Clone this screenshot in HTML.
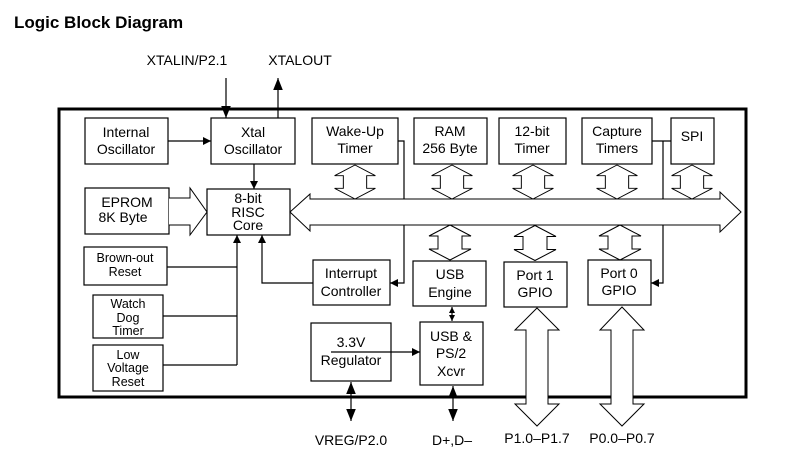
<!DOCTYPE html>
<html><head><meta charset="utf-8"><style>
html,body{margin:0;padding:0;background:#fff;}
svg{display:block;font-family:"Liberation Sans",Arial,sans-serif;}
text{font-size:14px;fill:#000;text-anchor:middle;}
.b{fill:#fff;stroke:#000;stroke-width:1.2;}
.l{stroke:#000;stroke-width:1.2;fill:none;}
.h{fill:#fff;stroke:#000;stroke-width:1;}
</style></head><body>
<svg width="801" height="458" viewBox="0 0 801 458">
<defs>
<marker id="a" viewBox="0 0 10 10" refX="10" refY="5" markerWidth="8" markerHeight="8" markerUnits="userSpaceOnUse" orient="auto"><path d="M0,0L10,5L0,10z" fill="#000"/></marker>
<marker id="A" viewBox="0 0 10 10" refX="10" refY="5" markerWidth="12" markerHeight="12" markerUnits="userSpaceOnUse" orient="auto-start-reverse"><path d="M0,1L10,5L0,9z" fill="#000"/></marker>
<marker id="s" viewBox="0 0 10 10" refX="10" refY="5" markerWidth="6" markerHeight="6" markerUnits="userSpaceOnUse" orient="auto-start-reverse"><path d="M0,0L10,5L0,10z" fill="#000"/></marker>
<symbol id="dv" viewBox="-21 0 42 35" overflow="visible">
<path d="M0,0L21,11L12,11L12,24L21,24L0,35L-21,24L-12,24L-12,11L-21,11Z"/>
</symbol>
</defs>
<text x="14" y="28" style="font-size:17px;font-weight:bold;text-anchor:start">Logic Block Diagram</text>
<text x="187" y="65">XTALIN/P2.1</text>
<text x="300" y="65">XTALOUT</text>
<rect x="59" y="109" width="687" height="288" fill="none" stroke="#000" stroke-width="3"/>
<!-- external pins -->
<line class="l" x1="226" y1="78" x2="226" y2="118" marker-end="url(#A)"/>
<line class="l" x1="278" y1="120" x2="278" y2="78" marker-end="url(#A)"/>
<!-- boxes -->
<rect class="b" x="85" y="118" width="83" height="46"/><text x="126" y="137">Internal</text><text x="126" y="154">Oscillator</text>
<rect class="b" x="211" y="118" width="84" height="46"/><text x="253" y="137">Xtal</text><text x="253" y="154">Oscillator</text>
<rect class="b" x="312" y="118" width="86" height="46"/><text x="355" y="136">Wake-Up</text><text x="355" y="153">Timer</text>
<rect class="b" x="414" y="118" width="73" height="46"/><text x="450" y="136">RAM</text><text x="450" y="153">256 Byte</text>
<rect class="b" x="499" y="118" width="67" height="46"/><text x="532" y="136">12-bit</text><text x="532" y="153">Timer</text>
<rect class="b" x="582" y="118" width="70" height="46"/><text x="617" y="136">Capture</text><text x="617" y="153">Timers</text>
<rect class="b" x="671" y="118" width="43" height="46"/><text x="692" y="141">SPI</text>
<rect class="b" x="85" y="188" width="84" height="46"/><text x="127" y="207">EPROM</text><text x="123" y="222">8K Byte</text>
<rect class="b" x="207" y="189" width="83" height="46"/><text x="248" y="203">8-bit</text><text x="248" y="217">RISC</text><text x="248" y="230">Core</text>
<rect class="b" x="84" y="247" width="83" height="38"/><text x="125" y="262" style="font-size:12.5px">Brown-out</text><text x="125" y="276" style="font-size:12.5px">Reset</text>
<rect class="b" x="93" y="295" width="70" height="43"/><text x="128" y="308" style="font-size:12.5px">Watch</text><text x="128" y="322" style="font-size:12.5px">Dog</text><text x="128" y="335" style="font-size:12.5px">Timer</text>
<rect class="b" x="93" y="345" width="70" height="46"/><text x="128" y="359" style="font-size:12.5px">Low</text><text x="128" y="372" style="font-size:12.5px">Voltage</text><text x="128" y="386" style="font-size:12.5px">Reset</text>
<rect class="b" x="313" y="260" width="77" height="45"/><text x="351" y="278">Interrupt</text><text x="351" y="296">Controller</text>
<rect class="b" x="413" y="261" width="73" height="45"/><text x="450" y="279">USB</text><text x="450" y="297">Engine</text>
<rect class="b" x="504" y="262" width="63" height="45"/><text x="535" y="280">Port 1</text><text x="535" y="297">GPIO</text>
<rect class="b" x="588" y="260" width="63" height="45"/><text x="619" y="278">Port 0</text><text x="619" y="295">GPIO</text>
<rect class="b" x="311" y="323" width="80" height="58"/><text x="351" y="347">3.3V</text><text x="351" y="365">Regulator</text>
<rect class="b" x="420" y="322" width="63" height="63"/><text x="451" y="341">USB &amp;</text><text x="451" y="358">PS/2</text><text x="451" y="376">Xcvr</text>
<!-- connectors -->
<line class="l" x1="168" y1="141" x2="211" y2="141" marker-end="url(#a)"/>
<line class="l" x1="254" y1="164" x2="254" y2="189" marker-end="url(#a)"/>
<line class="l" x1="167" y1="267" x2="237" y2="267"/>
<line class="l" x1="163" y1="316" x2="237" y2="316"/>
<line class="l" x1="163" y1="365" x2="237" y2="365"/>
<line class="l" x1="237" y1="365" x2="237" y2="235" marker-end="url(#a)"/>
<polyline class="l" points="313,283 262,283 262,235" marker-end="url(#a)"/>
<polyline class="l" points="398,141 404,141 404,283 390,283" marker-end="url(#a)"/>
<line class="l" x1="652" y1="141" x2="671" y2="141"/>
<polyline class="l" points="663,141 663,283 651,283" marker-end="url(#a)"/>
<line class="l" x1="331" y1="352" x2="420" y2="352" marker-end="url(#a)"/>
<line class="l" x1="452" y1="307" x2="452" y2="321" marker-start="url(#s)" marker-end="url(#s)"/>
<line class="l" x1="351" y1="382" x2="351" y2="421" marker-start="url(#A)" marker-end="url(#A)" stroke-width="1.5"/>
<line class="l" x1="453" y1="386" x2="453" y2="421" marker-start="url(#A)" marker-end="url(#A)" stroke-width="1.5"/>
<!-- EPROM hollow arrow -->
<path class="h" d="M169,198L190,198L190,188L207,212L190,235L190,225L169,225"/>
<!-- bus -->
<path class="h" d="M290,212L310,194L310,199L720,199L720,192L741,212L720,232L720,225L310,225L310,231Z"/>
<!-- small double arrows -->
<g class="h">
<use href="#dv" x="334" y="165" width="42" height="34"/>
<use href="#dv" x="431" y="165" width="42" height="34"/>
<use href="#dv" x="512" y="165" width="42" height="34"/>
<use href="#dv" x="596" y="165" width="42" height="34"/>
<use href="#dv" x="671" y="165" width="42" height="34"/>
<use href="#dv" x="429" y="225" width="42" height="35"/>
<use href="#dv" x="514" y="225" width="42" height="36"/>
<use href="#dv" x="599" y="225" width="42" height="35"/>
</g>
<!-- port hollow arrows -->
<path class="h" d="M537,308L559,330L548,330L548,404L559,404L537,426L515,404L526,404L526,330L515,330Z"/>
<path class="h" d="M622,307L644,330L633,330L633,404L644,404L622,426L600,404L611,404L611,330L600,330Z"/>
<text x="351" y="445">VREG/P2.0</text>
<text x="452" y="445">D+,D–</text>
<text x="537" y="443">P1.0–P1.7</text>
<text x="622" y="443">P0.0–P0.7</text>
</svg>
</body></html>
